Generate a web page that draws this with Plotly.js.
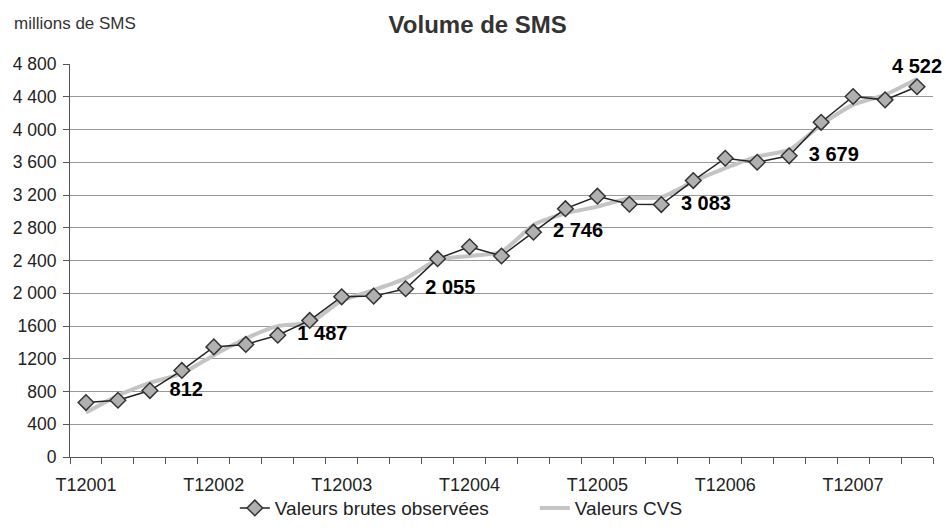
<!DOCTYPE html>
<html>
<head>
<meta charset="utf-8">
<script src="https://cdn.plot.ly/plotly-3.0.1.min.js"></script>
<style>html,body{margin:0;padding:0;background:#fff;}</style>
</head>
<body>
<div id="chart" style="width:946px;height:530px;"></div>
<script>
const quarters = ["T12001","T22001","T32001","T42001","T12002","T22002","T32002","T42002",
  "T12003","T22003","T32003","T42003","T12004","T22004","T32004","T42004",
  "T12005","T22005","T32005","T42005","T12006","T22006","T32006","T42006",
  "T12007","T22007","T32007"];
const xTickLabels = ["T12001","T12002","T12003","T12004","T12005","T12006","T12007"];
const rawValues = [665, 693, 812, 1057, 1345, 1375, 1487, 1668, 1957, 1965, 2055, 2422, 2568, 2455,
  2746, 3033, 3185, 3087, 3083, 3376, 3649, 3600, 3679, 4088, 4403, 4362, 4522];
const cvsValues = [543, 750, 905, 1020, 1244, 1448, 1598, 1640, 1908, 2039, 2182, 2406, 2455, 2507,
  2834, 2977, 3058, 3160, 3172, 3363, 3527, 3669, 3751, 4057, 4301, 4424, 4616];
const labelledQuarters = ["T32001","T32002","T32003","T32004","T32005","T32006","T32007"];
const yTickValues = [0,400,800,1200,1600,2000,2400,2800,3200,3600,4000,4400,4800];
const yTickLabels = ["0","400","800","1200","1600","2 000","2 400","2 800","3 200","3 600","4 000","4 400","4 800"];

const fmt = v => String(v).replace(/\B(?=(\d{3})+(?!\d))/g, " ");
const FONT = "Liberation Sans, Arial, sans-serif";
const last = quarters.length - 1;

const labelText = quarters.map((q, i) => labelledQuarters.includes(q) ? (i === last ? "" : "  ") + fmt(rawValues[i]) : "");
const labelPos = quarters.map((q, i) => i === last ? "top center" : "middle right");

const traces = [
  {
    x: quarters, y: cvsValues, type: "scatter", mode: "lines",
    name: "Valeurs CVS",
    line: {color: "#c4c4c4", width: 4, shape: "spline", smoothing: 0.6},
    legendrank: 2, hoverinfo: "skip"
  },
  {
    x: quarters, y: rawValues, type: "scatter", mode: "lines+markers+text",
    name: "Valeurs brutes observées",
    line: {color: "#222", width: 1.5},
    marker: {symbol: "diamond", size: 12, color: "#b0b0b0", line: {color: "#333", width: 1.5}},
    text: labelText, textposition: labelPos,
    textfont: {family: FONT, size: 20, color: "#000", weight: "bold"},
    legendrank: 1, cliponaxis: false
  },
  {
    // carrier for the boundary tick axis (no visible marks)
    x: [-0.5, last + 0.5], y: [null, null], xaxis: "x2", yaxis: "y",
    type: "scatter", mode: "lines", showlegend: false, hoverinfo: "skip"
  }
];

const layout = {
  width: 946, height: 530,
  margin: {l: 70, r: 13, t: 64, b: 73, autoexpand: false},
  paper_bgcolor: "#fff", plot_bgcolor: "#fff",
  font: {family: FONT, color: "#222", size: 17},
  title: {
    text: "Volume de SMS", xref: "container", x: 0.505, xanchor: "center",
    yref: "container", y: 0.953, yanchor: "middle",
    font: {family: FONT, size: 24, color: "#333", weight: "bold"}
  },
  xaxis: {
    type: "category", range: [-0.5, last + 0.5], automargin: false,
    tickmode: "array", tickvals: xTickLabels, ticktext: xTickLabels,
    ticks: "", showgrid: false, zeroline: false,
    showline: true, linecolor: "#555", linewidth: 1,
    tickfont: {family: FONT, size: 18, color: "#222"},
    ticklabelstandoff: 11, fixedrange: true
  },
  xaxis2: {
    overlaying: "x", anchor: "y", side: "bottom", range: [-0.5, last + 0.5], automargin: false,
    tickmode: "linear", tick0: -0.5, dtick: 1,
    ticks: "outside", ticklen: 6, tickcolor: "#555", tickwidth: 1,
    showticklabels: false, showgrid: false, zeroline: false, showline: false
  },
  yaxis: {
    range: [0, 4800], tickmode: "array", tickvals: yTickValues, ticktext: yTickLabels, automargin: false,
    ticks: "outside", ticklen: 6, tickcolor: "#555",
    showgrid: true, gridcolor: "#999", gridwidth: 1, zeroline: false,
    showline: true, linecolor: "#555", linewidth: 1,
    tickfont: {family: FONT, size: 17.5, color: "#222"},
    ticklabelstandoff: 3, fixedrange: true
  },
  legend: {
    orientation: "h", x: 0.191, xanchor: "left", y: -0.13, yanchor: "middle",
    entrywidth: 255, entrywidthmode: "pixels",
    font: {family: FONT, size: 19, color: "#222"}, bgcolor: "rgba(0,0,0,0)"
  },
  annotations: [{
    text: "millions de SMS", xref: "paper", yref: "paper",
    x: -0.0672, y: 1.1018, xanchor: "left", yanchor: "middle",
    showarrow: false, font: {family: FONT, size: 17, color: "#333"}
  }],
  showlegend: true
};

Plotly.newPlot("chart", traces, layout, {displayModeBar: false, staticPlot: true});
</script>
</body>
</html>
